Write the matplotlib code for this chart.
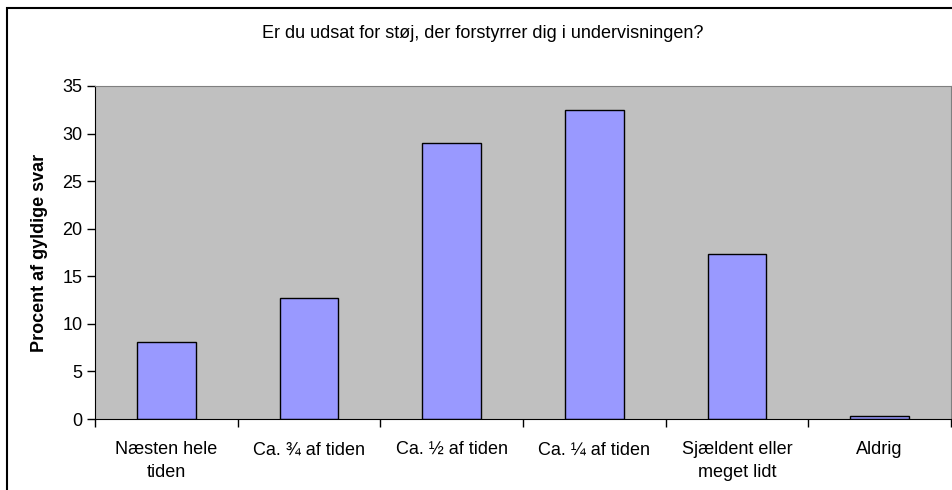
import numpy as np
import matplotlib.pyplot as plt
from matplotlib.patches import Rectangle

plt.rcParams['font.family'] = ['Liberation Sans', 'DejaVu Sans']

categories = ['Næsten hele\ntiden', 'Ca. ¾ af tiden', 'Ca. ½ af tiden',
              'Ca. ¼ af tiden', 'Sjældent eller\nmeget lidt', 'Aldrig']
percent = [8.1, 12.7, 29.0, 32.5, 17.3, 0.3]
yticks = [0, 5, 10, 15, 20, 25, 30, 35]

fig = plt.figure(figsize=(9.52, 4.9), dpi=100)
ax = fig.add_axes([95 / 952, 71 / 490, 856 / 952, 333 / 490])
ax.set_facecolor('#c0c0c0')

x = np.arange(len(categories))
ax.bar(x, percent, width=0.41, color='#9999ff', edgecolor='black', linewidth=1, zorder=2)

ax.set_xlim(-0.5, len(categories) - 0.5)
ax.set_ylim(0, 35)
ax.set_yticks(yticks)
ax.tick_params(axis='y', labelsize=13, length=6, width=1, pad=3)

# category ticks sit between bars, labels centred under bars
ax.set_xticks(np.arange(len(categories) + 1) - 0.5)
ax.set_xticklabels([])
ax.set_xticks(x, minor=True)
ax.set_xticklabels(categories, minor=True, fontsize=13, linespacing=1.45)
ax.tick_params(axis='x', which='major', length=6, width=1)
ax.tick_params(axis='x', which='minor', length=0, pad=16)

for s in ['top', 'right']:
    ax.spines[s].set_color('#808080')
for s in ['left', 'bottom']:
    ax.spines[s].set_color('black')

ax.set_ylabel('Procent af gyldige svar', fontsize=13, fontweight='bold', labelpad=10)
fig.text(483 / 952, 1 - 33 / 490, 'Er du udsat for støj, der forstyrrer dig i undervisningen?',
         ha='center', va='center', fontsize=13)

fig.patches.append(Rectangle((7 / 952, -0.2), 1.2, 1.2 - 8 / 490, transform=fig.transFigure,
                             fill=False, edgecolor='black', linewidth=1.5))

plt.savefig('out.png', dpi=100)
